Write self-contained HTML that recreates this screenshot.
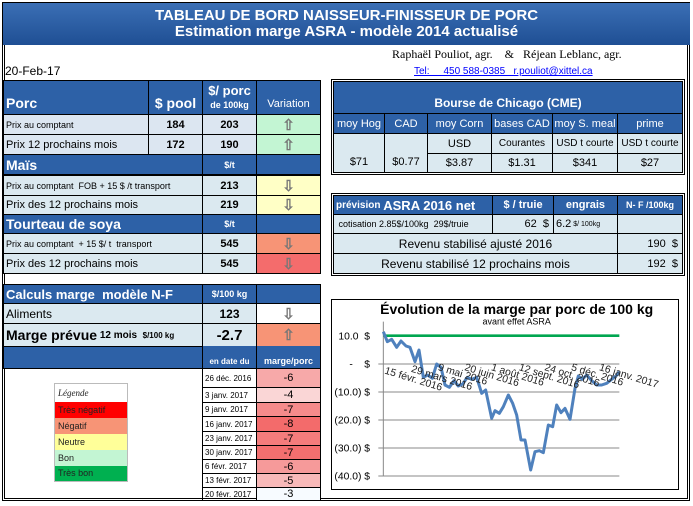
<!DOCTYPE html>
<html><head><meta charset="utf-8"><style>
body{margin:0;width:693px;height:506px;background:#fff;position:relative;overflow:hidden;font-family:"Liberation Sans",sans-serif}
.c{position:absolute;box-sizing:border-box;border:1px solid #000;display:flex;align-items:center;overflow:hidden;white-space:nowrap;font-size:11px;color:#000}
.b{background:#2d61a7;color:#fff;font-weight:bold}
.l{background:#dbe9f0}
.g{background:#dce6f1}
.ctr{justify-content:center}
.r{justify-content:flex-end;padding-right:4px}
.p{padding-left:2px}
.ar{color:#777;font-size:15px;font-weight:bold}
.lg div{padding-left:3px;color:#222}
</style></head><body>
<div style="position:absolute;left:2px;top:2px;width:688px;height:499px;border:3px double #000;box-sizing:border-box"></div>
<div style="position:absolute;left:3px;top:3px;width:687px;height:42px;background:linear-gradient(#3b6fb5,#1f4f94);color:#fff;font-weight:bold;text-align:center;font-size:15px;line-height:16px;padding-top:5px;box-sizing:border-box">TABLEAU DE BORD NAISSEUR-FINISSEUR DE PORC<br>Estimation marge ASRA - modèle 2014 actualisé</div>
<div style="position:absolute;left:5px;top:64px;font-size:12px">20-Feb-17</div>
<div style="position:absolute;left:392px;top:47px;font-family:'Liberation Serif',serif;font-size:12px">Raphaël Pouliot, agr. &nbsp;&nbsp; &amp; &nbsp;&nbsp;Réjean Leblanc, agr.</div>
<div style="position:absolute;left:414px;top:66px;font-size:10px;color:#00f;text-decoration:underline">Tel: &nbsp;&nbsp;&nbsp; 450 588-0385 &nbsp; r.pouliot@xittel.ca</div>

<div class="c b p" style="left:3px;top:80px;width:146px;height:35px;align-items:flex-end;font-size:14px;padding-bottom:3px">Porc</div>
<div class="c b ctr" style="left:148px;top:80px;width:55px;height:35px;align-items:flex-end;font-size:14px;padding-bottom:3px">$ pool</div>
<div class="c b ctr" style="left:202px;top:80px;width:55px;height:35px;flex-direction:column;font-size:13px;line-height:14px"><span>$/ porc</span><span style="font-size:9px">de 100kg</span></div>
<div class="c b ctr" style="left:256px;top:80px;width:65px;height:35px;align-items:flex-end;font-weight:normal;padding-bottom:4px">Variation</div>
<div class="c g p" style="left:3px;top:114px;width:146px;height:21px;font-size:9px">Prix au comptant</div>
<div class="c g ctr" style="left:148px;top:114px;width:55px;height:21px;font-weight:bold">184</div>
<div class="c g ctr" style="left:202px;top:114px;width:55px;height:21px;font-weight:bold">203</div>
<div class="c ctr ar" style="left:256px;top:114px;width:65px;height:21px;background:#c3f5d3">⇧</div>
<div class="c g p" style="left:3px;top:134px;width:146px;height:21px">Prix 12 prochains mois</div>
<div class="c g ctr" style="left:148px;top:134px;width:55px;height:21px;font-weight:bold">172</div>
<div class="c g ctr" style="left:202px;top:134px;width:55px;height:21px;font-weight:bold">190</div>
<div class="c ctr ar" style="left:256px;top:134px;width:65px;height:21px;background:#c3f5d3">⇧</div>
<div class="c b p" style="left:3px;top:154px;width:200px;height:21px;font-size:14px">Maïs</div>
<div class="c b ctr" style="left:202px;top:154px;width:55px;height:21px;font-size:9px">$/t</div>
<div class="c b" style="left:256px;top:154px;width:65px;height:21px"></div>
<div class="c l p" style="left:3px;top:175px;width:200px;height:21px;font-size:9px">Prix au comptant&nbsp; FOB + 15 $ /t transport</div>
<div class="c l ctr" style="left:202px;top:175px;width:55px;height:21px;font-weight:bold">213</div>
<div class="c ctr ar" style="left:256px;top:175px;width:65px;height:21px;background:#ffffc6">⇩</div>
<div class="c l p" style="left:3px;top:195px;width:200px;height:20px">Prix des 12 prochains mois</div>
<div class="c l ctr" style="left:202px;top:195px;width:55px;height:20px;font-weight:bold">219</div>
<div class="c ctr ar" style="left:256px;top:195px;width:65px;height:20px;background:#ffffc6">⇩</div>
<div class="c b p" style="left:3px;top:214px;width:200px;height:20px;font-size:14px">Tourteau de soya</div>
<div class="c b ctr" style="left:202px;top:214px;width:55px;height:20px;font-size:9px">$/t</div>
<div class="c b" style="left:256px;top:214px;width:65px;height:20px"></div>
<div class="c l p" style="left:3px;top:233px;width:200px;height:21px;font-size:9px">Prix au comptant&nbsp; + 15 $/ t&nbsp; transport</div>
<div class="c l ctr" style="left:202px;top:233px;width:55px;height:21px;font-weight:bold">545</div>
<div class="c ctr ar" style="left:256px;top:233px;width:65px;height:21px;background:#f79476">⇩</div>
<div class="c l p" style="left:3px;top:253px;width:200px;height:21px">Prix des 12 prochains mois</div>
<div class="c l ctr" style="left:202px;top:253px;width:55px;height:21px;font-weight:bold">545</div>
<div class="c ctr ar" style="left:256px;top:253px;width:65px;height:21px;background:#f46c6c">⇩</div>

<div class="c b p" style="left:3px;top:284px;width:200px;height:20px;font-size:13px">Calculs marge&nbsp; modèle N-F</div>
<div class="c b ctr" style="left:202px;top:284px;width:55px;height:20px;font-size:9px">$/100 kg</div>
<div class="c b" style="left:256px;top:284px;width:65px;height:20px"></div>
<div class="c l p" style="left:3px;top:303px;width:200px;height:21px;font-size:12px">Aliments</div>
<div class="c l ctr" style="left:202px;top:303px;width:55px;height:21px;font-weight:bold;font-size:12px">123</div>
<div class="c ctr ar" style="left:256px;top:303px;width:65px;height:21px;background:#fff">⇩</div>
<div class="c l p" style="left:3px;top:323px;width:200px;height:24px;font-weight:bold;font-size:14px">Marge prévue<span style="font-size:10px">&nbsp;12 mois&nbsp; <span style="font-size:8px">$/100 kg</span></span></div>
<div class="c l ctr" style="left:202px;top:323px;width:55px;height:24px;font-weight:bold;font-size:15px">-2.7</div>
<div class="c ctr ar" style="left:256px;top:323px;width:65px;height:24px;background:#f79476">⇧</div>
<div class="c b" style="left:3px;top:346px;width:318px;height:23px"></div>
<div class="c b ctr" style="left:202px;top:346px;width:55px;height:23px;align-items:flex-end;font-size:8px;padding-bottom:2px;border-top:none">en date du</div>
<div class="c b ctr" style="left:256px;top:346px;width:65px;height:23px;align-items:flex-end;font-size:9px;padding-bottom:2px;border-top:none">marge/porc</div>
<div class="c p" style="left:202px;top:368px;width:55px;height:20px;font-size:8px">26 déc. 2016</div><div class="c ctr" style="left:256px;top:368px;width:65px;height:20px;background:#f7a9a9">-6</div>
<div class="c p" style="left:202px;top:387px;width:55px;height:16px;font-size:8px">3 janv. 2017</div><div class="c ctr" style="left:256px;top:387px;width:65px;height:16px;background:#fad6d6">-4</div>
<div class="c p" style="left:202px;top:402px;width:55px;height:15px;font-size:8px">9 janv. 2017</div><div class="c ctr" style="left:256px;top:402px;width:65px;height:15px;background:#f58b8b">-7</div>
<div class="c p" style="left:202px;top:416px;width:55px;height:16px;font-size:8px">16 janv. 2017</div><div class="c ctr" style="left:256px;top:416px;width:65px;height:16px;background:#f36b6b">-8</div>
<div class="c p" style="left:202px;top:431px;width:55px;height:15px;font-size:8px">23 janv. 2017</div><div class="c ctr" style="left:256px;top:431px;width:65px;height:15px;background:#f47c7c">-7</div>
<div class="c p" style="left:202px;top:445px;width:55px;height:15px;font-size:8px">30 janv. 2017</div><div class="c ctr" style="left:256px;top:445px;width:65px;height:15px;background:#f36f6f">-7</div>
<div class="c p" style="left:202px;top:459px;width:55px;height:15px;font-size:8px">6 févr. 2017</div><div class="c ctr" style="left:256px;top:459px;width:65px;height:15px;background:#f69a9a">-6</div>
<div class="c p" style="left:202px;top:473px;width:55px;height:15px;font-size:8px">13 févr. 2017</div><div class="c ctr" style="left:256px;top:473px;width:65px;height:15px;background:#f8b9b9">-5</div>
<div class="c p" style="left:202px;top:487px;width:55px;height:14px;font-size:8px">20 févr. 2017</div><div class="c ctr" style="left:256px;top:487px;width:65px;height:14px;background:#f7fbff">-3</div>

<div class="lg" style="position:absolute;left:54px;top:383px;width:74px;height:99px;border:1px solid #bbb;box-sizing:border-box;font-size:9px">
<div style="height:18px;line-height:18px;font-style:italic;font-family:'Liberation Serif',serif">Légende</div>
<div style="height:16px;background:#f00;line-height:16px">Très négatif</div>
<div style="height:16px;background:#f79476;line-height:16px">Négatif</div>
<div style="height:16px;background:#ffff99;line-height:16px">Neutre</div>
<div style="height:16px;background:#c3f5d3;line-height:16px">Bon</div>
<div style="height:15px;background:#00b050;line-height:15px">Très bon</div>
</div>

<div style="position:absolute;left:331px;top:79px;width:354px;height:96px;border:3px double #000;box-sizing:border-box"></div>
<div class="c b ctr" style="left:333px;top:81px;width:350px;height:33px;align-items:flex-end;padding-bottom:3px;font-size:12px">Bourse de Chicago (CME)</div>
<div class="c b ctr" style="left:333px;top:113px;width:52px;height:21px;font-weight:normal">moy Hog</div>
<div class="c b ctr" style="left:384px;top:113px;width:44px;height:21px;font-weight:normal">CAD</div>
<div class="c b ctr" style="left:427px;top:113px;width:65px;height:21px;font-weight:normal">moy Corn</div>
<div class="c b ctr" style="left:491px;top:113px;width:62px;height:21px;font-weight:normal">bases CAD</div>
<div class="c b ctr" style="left:552px;top:113px;width:66px;height:21px;font-weight:normal">moy S. meal</div>
<div class="c b ctr" style="left:617px;top:113px;width:66px;height:21px;font-weight:normal">prime</div>
<div class="c l ctr" style="left:333px;top:133px;width:52px;height:40px;align-items:flex-end;padding-bottom:4px">$71</div>
<div class="c l ctr" style="left:384px;top:133px;width:44px;height:40px;align-items:flex-end;padding-bottom:4px">$0.77</div>
<div class="c l ctr" style="left:427px;top:133px;width:65px;height:21px">USD</div>
<div class="c l ctr" style="left:491px;top:133px;width:62px;height:21px;font-size:10px">Courantes</div>
<div class="c l ctr" style="left:552px;top:133px;width:66px;height:21px;font-size:10px">USD t courte</div>
<div class="c l ctr" style="left:617px;top:133px;width:66px;height:21px;font-size:10px">USD t courte</div>
<div class="c l ctr" style="left:427px;top:153px;width:65px;height:20px">$3.87</div>
<div class="c l ctr" style="left:491px;top:153px;width:62px;height:20px">$1.31</div>
<div class="c l ctr" style="left:552px;top:153px;width:66px;height:20px">$341</div>
<div class="c l ctr" style="left:617px;top:153px;width:66px;height:20px">$27</div>

<div style="position:absolute;left:331px;top:193px;width:354px;height:83px;border:3px double #000;box-sizing:border-box"></div>
<div class="c b p" style="left:333px;top:195px;width:160px;height:20px;font-size:10px">prévision&nbsp;<span style="font-size:13px">ASRA 2016 net</span></div>
<div class="c b ctr" style="left:492px;top:195px;width:62px;height:20px">$ / truie</div>
<div class="c b ctr" style="left:553px;top:195px;width:65px;height:20px">engrais</div>
<div class="c b ctr" style="left:617px;top:195px;width:66px;height:20px;font-size:9px">N- F /100kg</div>
<div class="c l p" style="left:333px;top:214px;width:160px;height:20px;font-size:9px">&nbsp;cotisation 2.85$/100kg&nbsp; 29$/truie</div>
<div class="c l r" style="left:492px;top:214px;width:62px;height:20px">62&nbsp; $</div>
<div class="c l p" style="left:553px;top:214px;width:65px;height:20px">6.2 <span style="font-size:7px">&nbsp;$/ 100kg</span></div>
<div class="c l" style="left:617px;top:214px;width:66px;height:20px"></div>
<div class="c l ctr" style="left:333px;top:233px;width:285px;height:21px;font-size:12px">Revenu stabilisé ajusté 2016</div>
<div class="c l r" style="left:617px;top:233px;width:66px;height:21px">190&nbsp; $</div>
<div class="c l ctr" style="left:333px;top:253px;width:285px;height:21px;font-size:12px">Revenu stabilisé 12 prochains mois</div>
<div class="c l r" style="left:617px;top:253px;width:66px;height:21px">192&nbsp; $</div>

<div style="position:absolute;left:331px;top:299px;width:348px;height:191px;border:1px solid #000;box-sizing:border-box"></div>
<svg style="position:absolute;left:330px;top:290px" width="363" height="216" viewBox="0 0 1089 648">
<text x="560" y="72" text-anchor="middle" font-family="Liberation Sans" font-weight="bold" font-size="42">Évolution de la marge par porc de 100 kg</text>
<text x="560" y="104" text-anchor="middle" font-family="Liberation Sans" font-size="27">avant effet ASRA</text>
<g stroke="#888" stroke-width="3">
<line x1="160" y1="95" x2="160" y2="558"/>
<line x1="145" y1="222" x2="868" y2="222"/>
<line x1="145" y1="306" x2="868" y2="306"/>
<line x1="145" y1="390" x2="868" y2="390"/>
<line x1="145" y1="474" x2="868" y2="474"/>
<line x1="145" y1="558" x2="868" y2="558"/>
</g>
<g font-family="Liberation Sans" font-size="31" text-anchor="end">
<text x="120" y="148">10.0&#160; $</text>
<text x="120" y="232">-&#160;&#160;&#160; $</text>
<text x="120" y="316">(10.0) $</text>
<text x="120" y="400">(20.0) $</text>
<text x="120" y="484">(30.0) $</text>
<text x="120" y="568">(40.0) $</text>
</g>
<line x1="160" y1="137" x2="868" y2="137" stroke="#00a650" stroke-width="8"/>
<polyline fill="none" stroke="#4f81bd" stroke-width="9" stroke-linejoin="round" points="160,125 172,155 185,148 200,172 213,153 228,168 240,172 255,215 267,180 280,262 293,255 307,265 320,222 333,232 345,285 358,292 372,272 385,288 398,282 412,262 425,268 440,262 455,310 467,300 485,385 495,362 508,370 520,350 535,315 548,340 560,375 573,450 585,450 602,540 615,485 628,482 640,488 655,405 668,410 680,345 693,368 705,355 720,388 735,295 745,258 757,268 770,255 785,272 800,285 815,285 830,280 845,268 858,258 868,245"/>
<g font-family="Liberation Sans" font-size="31" fill="#222">
<text transform="translate(162,250) rotate(17)">15 févr. 2016</text>
<text transform="translate(242,245) rotate(17)">29 mars 2016</text>
<text transform="translate(322,240) rotate(17)">9 mai 2016</text>
<text transform="translate(402,240) rotate(17)">20 juin 2016</text>
<text transform="translate(482,240) rotate(17)">1 août 2016</text>
<text transform="translate(565,240) rotate(17)">12 sept. 2016</text>
<text transform="translate(642,240) rotate(17)">24 oct. 2016</text>
<text transform="translate(722,240) rotate(17)">5 déc. 2016</text>
<text transform="translate(806,240) rotate(17)">16 janv. 2017</text>
</g>
</svg>
</body></html>
